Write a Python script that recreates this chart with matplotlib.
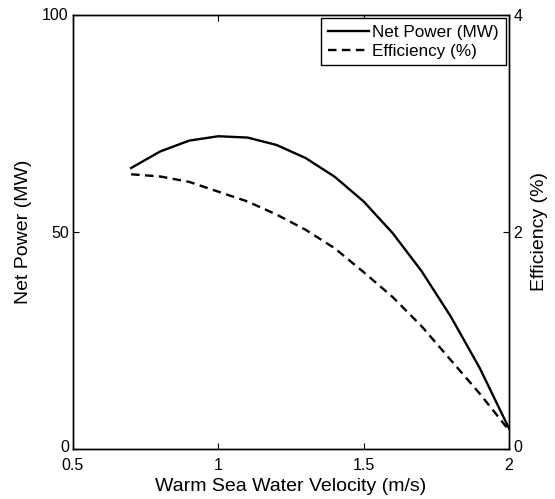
import matplotlib
matplotlib.use("Agg")
import matplotlib.pyplot as plt
import matplotlib.transforms as mtransforms

plt.rcParams['font.family'] = ['Liberation Sans', 'DejaVu Sans']

velocity = [0.7, 0.8, 0.9, 1.0, 1.1, 1.2, 1.3, 1.4, 1.5, 1.6, 1.7, 1.8, 1.9, 2.0]
net_power = [64.7, 68.5, 71.0, 72.0, 71.7, 70.0, 67.0, 62.7, 57.0, 49.7, 40.9, 30.5, 18.6, 4.8]
efficiency = [2.53, 2.51, 2.46, 2.37, 2.28, 2.16, 2.02, 1.85, 1.63, 1.40, 1.13, 0.82, 0.51, 0.175]

x_ticks = [0.5, 1, 1.5, 2]
x_ticklabels = ['0.5', '1', '1.5', '2']
left_ticks = [0, 50, 100]
right_ticks = [0, 2, 4]

fig = plt.figure(figsize=(5.55, 4.99), dpi=100)
ax = fig.add_axes([73/555, 1-449.3/499, (509-73)/555, (449.3-14.5)/499])
ax2 = ax.twinx()

l1, = ax.plot(velocity, net_power, color='black', lw=1.7, solid_joinstyle='miter')
l2, = ax2.plot(velocity, efficiency, color='black', lw=1.7, linestyle=(0, (3.6, 2.3)))

ax.set_xlim(0.5, 2)
ax.set_ylim(0, 100)
ax2.set_ylim(0, 4)
ax.set_xticks(x_ticks)
ax.set_xticklabels(x_ticklabels)
ax.set_yticks(left_ticks)
ax2.set_yticks(right_ticks)

for a in (ax, ax2):
    for s in a.spines.values():
        s.set_linewidth(1.0)
ax.tick_params(axis='x', direction='in', top=True, length=4, width=0.8, labelsize=11.5, pad=6)
ax.tick_params(axis='y', direction='in', right=False, length=4, width=0.8, labelsize=11.5, pad=3)
ax2.tick_params(axis='y', direction='in', length=4, width=0.8, labelsize=11.5, pad=3)

# nudge the lowest y tick labels up slightly so they do not collide with x tick labels
shift = mtransforms.ScaledTranslation(0, 2.5 / 72, fig.dpi_scale_trans)
for a in (ax, ax2):
    lbls = a.get_yticklabels()
    for lbl in (lbls[0],):
        lbl.set_transform(lbl.get_transform() + shift)
    if a is ax2:
        pass

ax.set_xlabel('Warm Sea Water Velocity (m/s)', fontsize=14, labelpad=4)
ax.set_ylabel('Net Power (MW)', fontsize=14, labelpad=7)
ax2.set_ylabel('Efficiency (%)', fontsize=14, labelpad=6)

leg = ax.legend([l1, l2], ['Net Power (MW)', 'Efficiency (%)'], loc='upper right',
                fontsize=12.3, fancybox=False, edgecolor='black', framealpha=1,
                handlelength=2.4, handletextpad=0.2, borderpad=0.4, labelspacing=0.22,
                borderaxespad=0.2)
leg.get_frame().set_linewidth(1.0)

fig.savefig('out.png', dpi=100)
